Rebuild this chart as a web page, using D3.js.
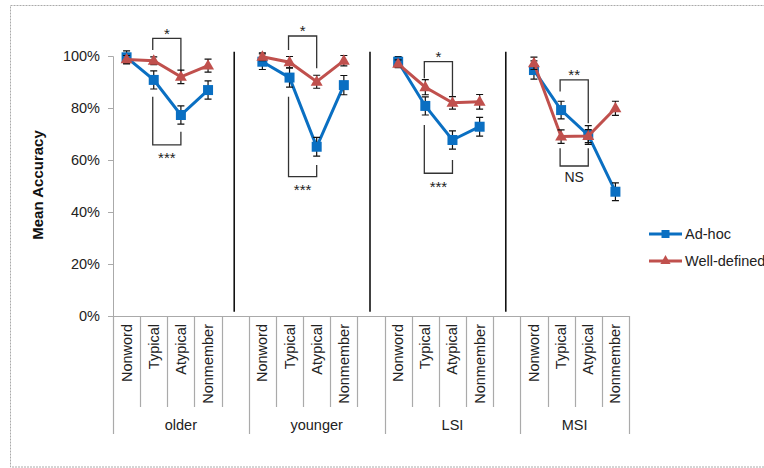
<!DOCTYPE html>
<html>
<head>
<meta charset="utf-8">
<script src="https://cdn.jsdelivr.net/npm/d3@7"></script>
<style>
  body { margin: 0; background: #fff; }
  svg { display: block; font-family: Arial, "Liberation Sans", sans-serif; }
</style>
</head>
<body>
<svg id="chart" width="764" height="468"></svg>
<script>
// ---------- data ----------
const groups = ["older", "younger", "LSI", "MSI"];
const categories = ["Nonword", "Typical", "Atypical", "Nonmember"];
const seriesNames = ["Ad-hoc", "Well-defined"];
const adhoc = [
  [99.5, 90.8, 77.3, 86.9],
  [97.8, 91.7, 65.1, 88.8],
  [97.8, 80.8, 67.7, 72.8],
  [94.6, 79.2, 69.6, 47.8]
];
const adhocErr = [
  [2.5, 3.5, 3.5, 3.5],
  [3.0, 3.7, 3.6, 3.7],
  [2.0, 3.5, 3.5, 3.6],
  [3.5, 3.4, 3.6, 3.4]
];
const welldef = [
  [98.7, 98.2, 92.0, 96.3],
  [99.7, 97.6, 90.1, 98.2],
  [97.0, 88.0, 82.0, 82.4],
  [97.2, 69.0, 69.2, 79.9]
];
const welldefErr = [
  [1.5, 1.5, 2.6, 2.5],
  [1.5, 2.2, 2.5, 2.0],
  [1.5, 2.9, 2.4, 2.8],
  [2.4, 2.6, 2.5, 2.7]
];
const yTicks = [0, 20, 40, 60, 80, 100];
// significance brackets: group, from category, to category, bar level, leg ends (%), label, side
const brackets = [
  { g: 0, a: 1, b: 2, bar: 106.8, la: 102.3, lb: 93.1, label: "*", side: "top" },
  { g: 0, a: 1, b: 2, bar: 65.8, la: 84.3, lb: 70.9, label: "***", side: "bottom" },
  { g: 1, a: 1, b: 2, bar: 107.7, la: 102.3, lb: 95.3, label: "*", side: "top" },
  { g: 1, a: 1, b: 2, bar: 53.6, la: 84.3, lb: 58.1, label: "***", side: "bottom" },
  { g: 2, a: 1, b: 2, bar: 97.8, la: 91.4, lb: 84.3, label: "*", side: "top" },
  { g: 2, a: 1, b: 2, bar: 54.9, la: 73.5, lb: 60.0, label: "***", side: "bottom" },
  { g: 3, a: 1, b: 2, bar: 90.8, la: 86.3, lb: 74.1, label: "**", side: "top" },
  { g: 3, a: 1, b: 2, bar: 57.7, la: 64.5, lb: 64.5, label: "NS", side: "bottom" }
];
const dividerRange = [1.6, 101.6];

// ---------- layout ----------
const svg = d3.select("#chart");
const plotLeft = 113, plotRight = 629, plotTop = 56, plotBottom = 316;
const blue = "#0a6fc2", red = "#c0504d";
const textColor = "#222";

// slots: 4 categories + blank slot between groups
const slots = [];
groups.forEach((g, gi) => {
  categories.forEach((c, ci) => slots.push({ key: g + "|" + c, g: gi, c: ci }));
  if (gi < groups.length - 1) slots.push({ key: g + "|blank", g: gi, c: -1 });
});
const x = d3.scaleBand().domain(slots.map(s => s.key)).range([plotLeft, plotRight]).padding(0);
const y = d3.scaleLinear().domain([0, 100]).range([plotBottom, plotTop]);
const cx = (gi, ci) => x(groups[gi] + "|" + categories[ci]) + x.bandwidth() / 2;

// outer frame
svg.append("rect").attr("x", 10.5).attr("y", 5.5).attr("width", 800).attr("height", 461.5)
  .attr("fill", "none").attr("stroke", "#aaa").attr("stroke-width", 1).attr("stroke-dasharray", "2,1");

// y axis
const yAxis = d3.axisLeft(y).tickValues(yTicks).tickFormat(d => d + "%").tickSize(5).tickPadding(8);
const ya = svg.append("g").attr("transform", `translate(${plotLeft},0)`).call(yAxis);
ya.select(".domain").attr("stroke", "#aaa");
ya.selectAll(".tick line").attr("stroke", "#aaa");
ya.selectAll(".tick text").attr("font-size", "14.5px").attr("fill", textColor)
  .attr("font-family", "Arial, 'Liberation Sans', sans-serif");

// y title
svg.append("text").attr("transform", `translate(43,185) rotate(-90)`)
  .attr("text-anchor", "middle").attr("font-weight", "bold").attr("font-size", "15px")
  .attr("fill", "#111").text("Mean Accuracy");

// x axis line
svg.append("line").attr("x1", plotLeft).attr("x2", plotRight).attr("y1", plotBottom + 0.5).attr("y2", plotBottom + 0.5)
  .attr("stroke", "#aaa").attr("stroke-width", 1.2);

// slot separators
const boundaries = [];
slots.forEach((s, i) => {
  const xs = x(s.key);
  const isGroupStart = i === 0 || slots[i - 1].g !== s.g;
  boundaries.push({ x: xs, long: isGroupStart });
});
boundaries.push({ x: plotRight, long: true });
svg.append("g").selectAll("line").data(boundaries).join("line")
  .attr("x1", d => Math.round(d.x) + 0.5).attr("x2", d => Math.round(d.x) + 0.5)
  .attr("y1", plotBottom).attr("y2", d => d.long ? 434 : 407)
  .attr("stroke", "#aaa").attr("stroke-width", 1.2);

// category labels
svg.append("g").selectAll("text").data(slots.filter(s => s.c >= 0)).join("text")
  .attr("transform", s => `translate(${x(s.key) + x.bandwidth() / 2 + 5},324) rotate(-90)`)
  .attr("text-anchor", "end").attr("font-size", "14.5px").attr("fill", textColor)
  .text(s => categories[s.c]);

// group labels
svg.append("g").selectAll("text").data(groups).join("text")
  .attr("x", (g, gi) => {
    const gs = slots.filter(s => s.g === gi);
    const x0 = x(gs[0].key);
    const x1 = x(gs[gs.length - 1].key) + x.bandwidth();
    return (x0 + x1) / 2;
  })
  .attr("y", 430).attr("text-anchor", "middle").attr("font-size", "14.5px").attr("fill", textColor)
  .text(g => g);

// black group dividers in blank slots
svg.append("g").selectAll("line").data(slots.filter(s => s.c < 0)).join("line")
  .attr("x1", s => x(s.key) + x.bandwidth() / 2 - 1).attr("x2", s => x(s.key) + x.bandwidth() / 2 - 1)
  .attr("y1", y(dividerRange[1])).attr("y2", y(dividerRange[0]))
  .attr("stroke", "#111").attr("stroke-width", 1.6);

// brackets
const bg = svg.append("g");
brackets.forEach(b => {
  const xa = cx(b.g, b.a) - 1, xb = cx(b.g, b.b);
  const p = d3.path();
  p.moveTo(xa, y(b.la)); p.lineTo(xa, y(b.bar)); p.lineTo(xb, y(b.bar)); p.lineTo(xb, y(b.lb));
  bg.append("path").attr("d", p.toString()).attr("fill", "none").attr("stroke", "#333").attr("stroke-width", 1.3);
  const ty = b.side === "top" ? y(b.bar) + 0.5 : y(b.bar) + (b.label === "NS" ? 16 : 18.5);
  bg.append("text").attr("x", (xa + xb) / 2).attr("y", ty).attr("text-anchor", "middle")
    .attr("font-size", b.label === "NS" ? "14px" : "15px").attr("fill", textColor).text(b.label);
});

// series
const series = [
  { name: seriesNames[0], vals: adhoc, err: adhocErr, color: blue, shape: "square" },
  { name: seriesNames[1], vals: welldef, err: welldefErr, color: red, shape: "triangle" }
];
const line = d3.line().x(d => d.x).y(d => d.y);
const sq = d3.symbol().type(d3.symbolSquare).size(100);
const tri = d3.symbol().type(d3.symbolTriangle).size(62);
series.forEach(s => {
  const g = svg.append("g");
  s.vals.forEach((row, gi) => {
    const pts = row.map((v, ci) => ({ x: cx(gi, ci), y: y(v), v, e: s.err[gi][ci] }));
    g.append("path").attr("d", line(pts)).attr("fill", "none").attr("stroke", s.color).attr("stroke-width", 3);
    pts.forEach(p => {
      const eb = d3.path();
      eb.moveTo(p.x, y(p.v - p.e)); eb.lineTo(p.x, y(p.v + p.e));
      eb.moveTo(p.x - 3.5, y(p.v + p.e)); eb.lineTo(p.x + 3.5, y(p.v + p.e));
      eb.moveTo(p.x - 3.5, y(p.v - p.e)); eb.lineTo(p.x + 3.5, y(p.v - p.e));
      g.append("path").attr("d", eb.toString()).attr("stroke", "#111").attr("stroke-width", 1.2).attr("fill", "none");
    });
    g.selectAll(null).data(pts).join("path")
      .attr("transform", p => `translate(${p.x},${p.y + (s.shape === "triangle" ? 0.5 : 0)})`)
      .attr("d", s.shape === "square" ? sq() : tri()).attr("fill", s.color);
  });
});

// legend
const legend = svg.append("g");
series.forEach((s, i) => {
  const ly = 234 + i * 27;
  legend.append("line").attr("x1", 649).attr("x2", 682).attr("y1", ly).attr("y2", ly)
    .attr("stroke", s.color).attr("stroke-width", 3);
  legend.append("path").attr("transform", `translate(665.5,${ly})`)
    .attr("d", s.shape === "square" ? d3.symbol().type(d3.symbolSquare).size(64)() : d3.symbol().type(d3.symbolTriangle).size(45)())
    .attr("fill", s.color);
  legend.append("text").attr("x", 685).attr("y", ly + 5).attr("font-size", "14.5px").attr("fill", textColor).text(s.name);
});
</script>
</body>
</html>
